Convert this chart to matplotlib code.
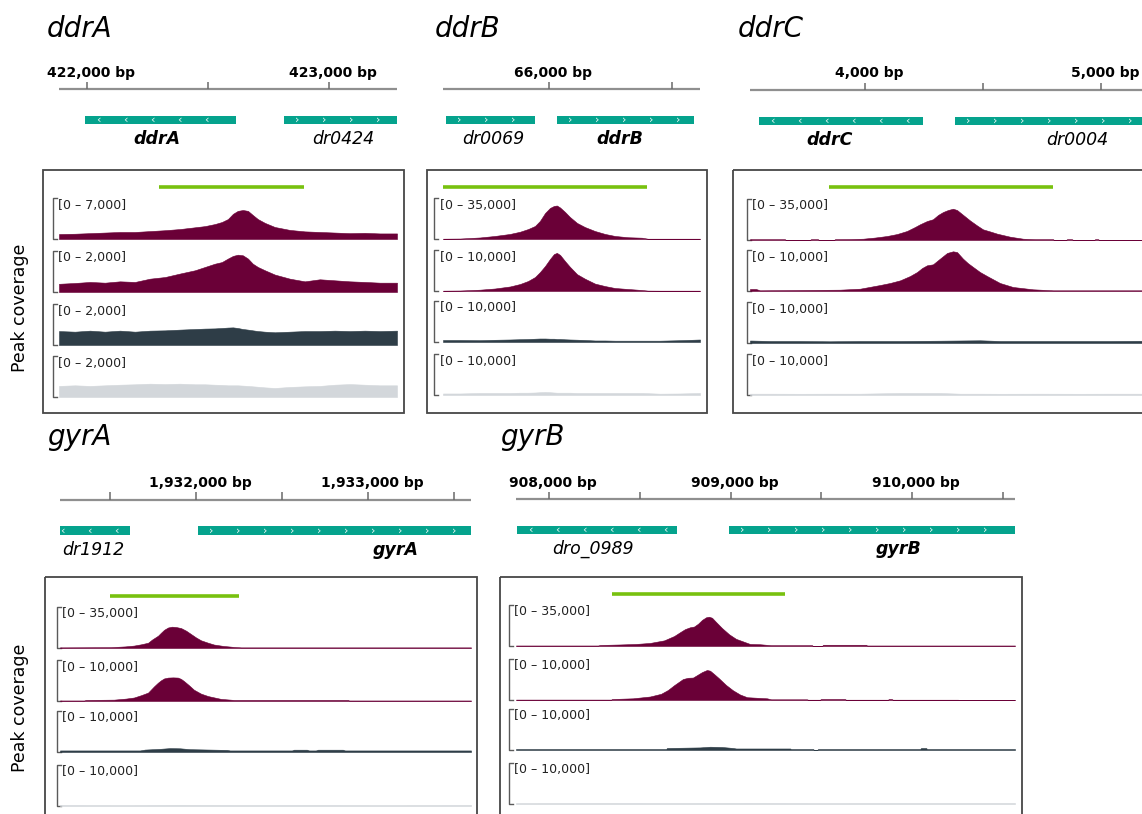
import matplotlib.pyplot as plt
from matplotlib.patches import Rectangle

W, H = 1142, 814

MAROON = '#6a0037'
SLATE = '#2e3d47'
PALE = '#d3d7db'
TEAL = '#05a38d'
GREEN = '#78c10f'
track_colors = [MAROON, MAROON, SLATE, PALE]

# ---- ddrA locus ----
ddrA_view = (421884, 423281)
ddrA_ticks = [422000, 422500, 423000]
ddrA_labeled = [422000, 423000]
ddrA_genes = ['ddrA', 'dr0424']
ddrA_gene_start = [421992, 422814]
ddrA_gene_end = [422616, 423300]
ddrA_strand = [-1, 1]
ddrA_label_pos = [422289, 423057]
ddrA_peak = (422297, 422897)
ddrA_ranges = [7000, 2000, 2000, 2000]
ddrA_pos = [421884, 421950, 422012, 422074, 422136, 422198, 422260, 422322, 422384, 422446,
            422487, 422528, 422557, 422582, 422603, 422623, 422644, 422665, 422685, 422706,
            422735, 422776, 422838, 422900, 422962, 423024, 423086, 423148, 423210, 423281]
ddrA_cov1 = [850, 900, 1000, 1100, 1200, 1200, 1350, 1500, 1700, 2000, 2200, 2550, 2900, 3400, 4300,
             4800, 4950, 4800, 4100, 3400, 2750, 2050, 1550, 1300, 1200, 1100, 1000, 1050, 950, 950]
ddrA_cov2 = [400, 440, 490, 455, 520, 490, 650, 730, 900, 1060, 1220, 1380, 1460, 1630, 1760,
             1820, 1790, 1630, 1380, 1220, 1060, 850, 650, 520, 620, 570, 520, 490, 455, 455]
ddrA_cov3 = [680, 650, 700, 650, 700, 650, 700, 715, 750, 780, 800, 810, 830, 850, 860,
             830, 780, 750, 715, 680, 650, 620, 650, 680, 680, 700, 680, 700, 680, 700]
ddrA_cov4 = [540, 570, 540, 570, 600, 620, 650, 630, 650, 620, 620, 600, 590, 570, 570,
             570, 555, 540, 520, 500, 470, 440, 490, 520, 540, 600, 630, 600, 570, 570]

# ---- ddrB locus ----
ddrB_view = (65569, 66614)
ddrB_ticks = [66000, 66500]
ddrB_labeled = [66000]
ddrB_genes = ['dr0069', 'ddrB']
ddrB_gene_start = [65581, 66033]
ddrB_gene_end = [65943, 66589]
ddrB_strand = [1, 1]
ddrB_label_pos = [65772, 66289]
ddrB_peak = (65569, 66398)
ddrB_ranges = [35000, 10000, 10000, 10000]
ddrB_pos = [65569, 65638, 65719, 65780, 65841, 65882, 65915, 65943, 65963, 65984, 66004, 66020,
            66032, 66045, 66065, 66085, 66114, 66146, 66187, 66228, 66268, 66321, 66378, 66402,
            66451, 66532, 66614]
ddrB_cov1 = [250, 400, 1300, 2600, 4300, 6200, 8500, 11100, 15400, 22200, 26500, 28200, 28600,
             26900, 23100, 18800, 13700, 10200, 6800, 4300, 2600, 1500, 1100, 250, 250, 250, 250]
ddrB_cov2 = [80, 120, 320, 610, 1100, 1700, 2440, 3400, 4600, 6100, 7800, 9000, 9300, 8800,
             7300, 5900, 4100, 3000, 1800, 1200, 730, 490, 240, 100, 80, 80, 80]
ddrB_cov3 = [490, 490, 440, 540, 610, 680, 730, 800, 850, 850, 800, 800, 730, 730, 660, 610,
             560, 490, 370, 370, 320, 320, 320, 320, 320, 440, 610]
ddrB_cov4 = [370, 370, 490, 490, 490, 560, 560, 610, 680, 730, 680, 610, 560, 560, 560, 560,
             490, 490, 490, 490, 490, 490, 490, 440, 320, 370, 490]

# ---- ddrC locus ----
ddrC_view = (3513, 5250)
ddrC_ticks = [4000, 4500, 5000]
ddrC_labeled = [4000, 5000]
ddrC_genes = ['ddrC', 'dr0004']
ddrC_gene_start = [3551, 4381]
ddrC_gene_end = [4246, 5415]
ddrC_strand = [-1, 1]
ddrC_label_pos = [3852, 4899]
ddrC_peak = (3847, 4797)
ddrC_ranges = [35000, 10000, 10000, 10000]
ddrC_x1 = [3513, 3661, 3665, 3767, 3771, 3801, 3805, 3869, 3873, 3937, 3992, 4043, 4093, 4136,
           4178, 4212, 4233, 4263, 4288, 4310, 4331, 4352, 4373, 4390, 4411, 4445, 4475, 4500,
           4530, 4560, 4615, 4670, 4721, 4797, 4801, 4852, 4856, 4877, 4882, 4971, 4975, 4988,
           4992, 5250]
ddrC_cov1 = [700, 700, 0, 0, 700, 700, 0, 0, 700, 800, 1100, 2100, 3400, 5100, 7700, 11100,
             13400, 16200, 17700, 21400, 23900, 25600, 26700, 25600, 22200, 16700, 12400, 9100,
             7300, 5400, 2800, 1100, 700, 700, 0, 0, 700, 700, 0, 0, 700, 700, 0, 0]
ddrC_x2 = [3513, 3538, 3555, 3894, 3979, 4064, 4106, 4149, 4191, 4221, 4242, 4263, 4288, 4318,
           4348, 4373, 4390, 4415, 4436, 4458, 4487, 4517, 4572, 4627, 4712, 4797, 5250]
ddrC_cov2 = [490, 490, 170, 320, 560, 1460, 1950, 2600, 3650, 4640, 5600, 6270, 6500, 7900,
             9280, 9680, 9500, 7900, 6800, 5860, 4640, 3660, 1950, 980, 410, 170, 170]
ddrC_x34 = [3513, 3598, 3725, 3852, 3979, 4149, 4318, 4403, 4488, 4572, 4742, 4911, 5038, 5250]
ddrC_cov3 = [610, 490, 490, 415, 490, 490, 560, 610, 660, 490, 490, 490, 490, 560]
ddrC_cov4 = [320, 320, 300, 320, 320, 490, 490, 320, 320, 300, 320, 300, 320, 320]

# ---- gyrA locus ----
gyrA_view = (1931209, 1933599)
gyrA_ticks = [1931500, 1932000, 1932500, 1933000, 1933500]
gyrA_labeled = [1932000, 1933000]
gyrA_genes = ['dr1912', 'gyrA']
gyrA_gene_start = [1931150, 1932012]
gyrA_gene_end = [1931616, 1934314]
gyrA_strand = [-1, 1]
gyrA_label_pos = [1931401, 1933163]
gyrA_peak = (1931500, 1932250)
gyrA_ranges = [35000, 10000, 10000, 10000]
gyrA_x1 = [1931209, 1931505, 1931587, 1931639, 1931680, 1931721, 1931744, 1931779, 1931796,
           1931814, 1931837, 1931860, 1931884, 1931913, 1931942, 1931971, 1932000, 1932029,
           1932070, 1932104, 1932157, 1932221, 1932262, 1933599]
gyrA_cov1 = [540, 720, 1350, 2060, 3140, 4490, 7180, 10500, 13000, 15500, 17500, 18200, 17900,
             17000, 14800, 11900, 9000, 6550, 4490, 2960, 1790, 900, 540, 540]
gyrA_x2 = [1931209, 1931349, 1931360, 1931523, 1931593, 1931639, 1931680, 1931721, 1931756,
           1931779, 1931796, 1931814, 1931837, 1931866, 1931895, 1931913, 1931930, 1931959,
           1931988, 1932029, 1932070, 1932145, 1932221, 1932884, 1932890, 1933599]
gyrA_cov2 = [130, 130, 260, 330, 590, 850, 1410, 2050, 3580, 4480, 5040, 5500, 5710, 5760, 5710,
             5380, 4860, 3840, 2740, 1790, 1200, 510, 260, 260, 130, 130]
gyrA_x3 = [1931209, 1931674, 1931703, 1931790, 1931849, 1931907, 1931965, 1932081, 1932180,
           1932197, 1932558, 1932569, 1932645, 1932657, 1932697, 1932709, 1932854, 1932866, 1933599]
gyrA_cov3 = [380, 380, 590, 770, 950, 900, 690, 590, 510, 380, 380, 560, 560, 380, 380, 560,
             560, 380, 380]
gyrA_x4 = [1931209, 1931600, 1931900, 1932300, 1932700, 1933100, 1933599]
gyrA_cov4 = [260, 230, 280, 240, 260, 230, 260]

# ---- gyrB locus ----
gyrB_view = (907818, 910567)
gyrB_ticks = [908000, 908500, 909000, 909500, 910000, 910500]
gyrB_labeled = [908000, 909000, 910000]
gyrB_genes = ['dro_0989', 'gyrB']
gyrB_gene_start = [907824, 908992]
gyrB_gene_end = [908705, 910854]
gyrB_strand = [-1, 1]
gyrB_label_pos = [908242, 909923]
gyrB_peak = (908347, 909300)
gyrB_ranges = [35000, 10000, 10000, 10000]
gyrB_x1 = [907818, 908270, 908281, 908391, 908479, 908556, 908634, 908689, 908722, 908749,
           908777, 908799, 908821, 908843, 908865, 908881, 908898, 908920, 908953, 908992,
           909030, 909069, 909107, 909162, 909223, 909449, 909454, 909504, 909510, 909747,
           909752, 910567]
gyrB_cov1 = [440, 440, 875, 1300, 1750, 2600, 4800, 8500, 11800, 14400, 16000, 16600, 19000,
             22300, 24500, 25000, 24100, 20500, 15300, 10000, 6100, 3900, 1750, 1500, 700, 700,
             0, 0, 1050, 1050, 440, 440]
gyrB_x2 = [907818, 908342, 908347, 908462, 908556, 908617, 908655, 908689, 908738, 908766,
           908793, 908821, 908843, 908870, 908887, 908909, 908936, 908975, 909013, 909052,
           909091, 909201, 909223, 909421, 909427, 909493, 909498, 909630, 909636, 909867,
           909872, 909888, 909894, 910253, 910259, 910567]
gyrB_cov2 = [100, 100, 240, 410, 850, 1510, 2440, 3610, 5120, 5420, 5470, 6220, 6810, 7320,
             7150, 6340, 5290, 3660, 2370, 1340, 680, 410, 170, 170, 70, 70, 240, 240, 70, 70,
             240, 240, 70, 70, 0, 0]
gyrB_x3 = [907818, 908645, 908650, 908832, 908887, 908953, 909014, 909030, 909328, 909334,
           909455, 909460, 909477, 909482, 910044, 910050, 910077, 910083, 910567]
gyrB_cov3 = [240, 240, 490, 630, 800, 730, 490, 370, 370, 240, 240, 0, 0, 240, 240, 490, 490,
             240, 240]
gyrB_x4 = [907818, 908300, 908700, 909100, 909500, 909900, 910567]
gyrB_cov4 = [230, 260, 240, 270, 230, 250, 240]


fig = plt.figure(figsize=(W / 100, H / 100), dpi=100)


def px_axes(x0, y0, x1, y1):
    # axes placed by pixel corners, y counted from the top edge
    return fig.add_axes([x0 / W, 1 - y1 / H, (x1 - x0) / W, (y1 - y0) / H])


canvas = px_axes(0, 0, W, H)
canvas.set_xlim(0, W)
canvas.set_ylim(H, 0)
canvas.axis('off')

panels = [
    dict(name='ddrA', title_xy=(47, 37), view=ddrA_view, data_px=(59, 397), ruler_y=89,
         box=(43, 170, 404, 413), bracket_x=53, baselines=[239, 292, 345, 397], peak_y=187,
         ticks=ddrA_ticks, labeled=ddrA_labeled, genes=ddrA_genes, gstart=ddrA_gene_start,
         gend=ddrA_gene_end, strand=ddrA_strand, glabel=ddrA_label_pos, peak=ddrA_peak,
         ranges=ddrA_ranges,
         tracks=[(ddrA_pos, ddrA_cov1), (ddrA_pos, ddrA_cov2), (ddrA_pos, ddrA_cov3), (ddrA_pos, ddrA_cov4)]),
    dict(name='ddrB', title_xy=(435, 37), view=ddrB_view, data_px=(443, 700), ruler_y=89,
         box=(427, 170, 707, 413), bracket_x=434, baselines=[239, 291, 342, 395], peak_y=187,
         ticks=ddrB_ticks, labeled=ddrB_labeled, genes=ddrB_genes, gstart=ddrB_gene_start,
         gend=ddrB_gene_end, strand=ddrB_strand, glabel=ddrB_label_pos, peak=ddrB_peak,
         ranges=ddrB_ranges,
         tracks=[(ddrB_pos, ddrB_cov1), (ddrB_pos, ddrB_cov2), (ddrB_pos, ddrB_cov3), (ddrB_pos, ddrB_cov4)]),
    dict(name='ddrC', title_xy=(738, 37), view=ddrC_view, data_px=(750, 1160), ruler_y=90,
         box=(733, 170, 1175, 413), bracket_x=747, baselines=[240, 291, 343, 395], peak_y=187,
         ticks=ddrC_ticks, labeled=ddrC_labeled, genes=ddrC_genes, gstart=ddrC_gene_start,
         gend=ddrC_gene_end, strand=ddrC_strand, glabel=ddrC_label_pos, peak=ddrC_peak,
         ranges=ddrC_ranges,
         tracks=[(ddrC_x1, ddrC_cov1), (ddrC_x2, ddrC_cov2), (ddrC_x34, ddrC_cov3), (ddrC_x34, ddrC_cov4)]),
    dict(name='gyrA', title_xy=(47, 445), view=gyrA_view, data_px=(60, 471), ruler_y=500,
         box=(45, 577, 477, 830), bracket_x=57, baselines=[648, 701, 752, 806], peak_y=596,
         ticks=gyrA_ticks, labeled=gyrA_labeled, genes=gyrA_genes, gstart=gyrA_gene_start,
         gend=gyrA_gene_end, strand=gyrA_strand, glabel=gyrA_label_pos, peak=gyrA_peak,
         ranges=gyrA_ranges,
         tracks=[(gyrA_x1, gyrA_cov1), (gyrA_x2, gyrA_cov2), (gyrA_x3, gyrA_cov3), (gyrA_x4, gyrA_cov4)]),
    dict(name='gyrB', title_xy=(500, 445), view=gyrB_view, data_px=(516, 1015), ruler_y=499,
         box=(500, 577, 1022, 830), bracket_x=509, baselines=[646, 700, 750, 804], peak_y=594,
         ticks=gyrB_ticks, labeled=gyrB_labeled, genes=gyrB_genes, gstart=gyrB_gene_start,
         gend=gyrB_gene_end, strand=gyrB_strand, glabel=gyrB_label_pos, peak=gyrB_peak,
         ranges=gyrB_ranges,
         tracks=[(gyrB_x1, gyrB_cov1), (gyrB_x2, gyrB_cov2), (gyrB_x3, gyrB_cov3), (gyrB_x4, gyrB_cov4)]),
]

TRACK_H = 41

for p in panels:
    lo, hi = p['view']
    x0, x1 = p['data_px']
    ry = p['ruler_y']
    bl, bt, br, bb = p['box']

    canvas.text(*p['title_xy'], p['name'], fontsize=20, style='italic', va='baseline', ha='left')
    canvas.add_patch(Rectangle((bl, bt), br - bl, bb - bt, fill=False, ec='#474747', lw=1.3))

    # ruler, genes and peak interval share the genomic x scale, y in pixels
    ax = px_axes(x0, ry - 40, x1, bb)
    ax.set_xlim(lo, hi)
    ax.set_ylim(bb, ry - 40)
    ax.axis('off')
    bpp = (hi - lo) / (x1 - x0)

    ax.plot([lo, hi], [ry, ry], color='#8f8f8f', lw=1.6, solid_capstyle='butt')
    ax.vlines(p['ticks'], ry - 7.5, ry, color='#6a6a6a', lw=1.1)
    for t in p['labeled']:
        ax.text(t + 4 * bpp, ry - 12.5, f'{t:,} bp', fontsize=10, fontweight='bold',
                ha='center', va='baseline')

    for g, s, e, d, lp in zip(p['genes'], p['gstart'], p['gend'], p['strand'], p['glabel']):
        ax.add_patch(Rectangle((s, ry + 26.5), e - s, 8.5, color=TEAL, lw=0))
        c = s + 13 * bpp
        while c < min(e, hi) - 6 * bpp:
            if c > lo:
                ax.text(c, ry + 30.5, '‹' if d < 0 else '›', color='#e8f6f3', fontsize=8,
                        ha='center', va='center')
            c += 27 * bpp
        bold = g == p['name']
        ax.text(lp, ry + 55, g, fontsize=12.5, style='italic',
                fontweight='bold' if bold else 'normal', ha='center', va='baseline')

    ax.plot(p['peak'], [p['peak_y'], p['peak_y']], color=GREEN, lw=2.6, solid_capstyle='butt')

    # coverage tracks with their data range brackets
    bx = p['bracket_x']
    for k, (xs, ys) in enumerate(p['tracks']):
        base = p['baselines'][k]
        top = base - TRACK_H
        tax = px_axes(x0, top, x1, base)
        tax.set_xlim(lo, hi)
        tax.set_ylim(0, p['ranges'][k])
        tax.axis('off')
        tax.fill_between(xs, ys, 0, facecolor=track_colors[k], edgecolor=track_colors[k], lw=0.4)

        canvas.plot([bx + 4, bx, bx, bx + 4], [top, top, base, base], color='#5a5a5a', lw=1)
        canvas.text(bx + 5.5, top + 7, f'[0 \u2013 {p["ranges"][k]:,}]', fontsize=9,
                    va='center', ha='left', color='#222222')

canvas.text(20, 308, 'Peak coverage', rotation=90, fontsize=12.5, ha='center', va='center')
canvas.text(20, 708, 'Peak coverage', rotation=90, fontsize=12.5, ha='center', va='center')

fig.savefig('out.png', dpi=100)
